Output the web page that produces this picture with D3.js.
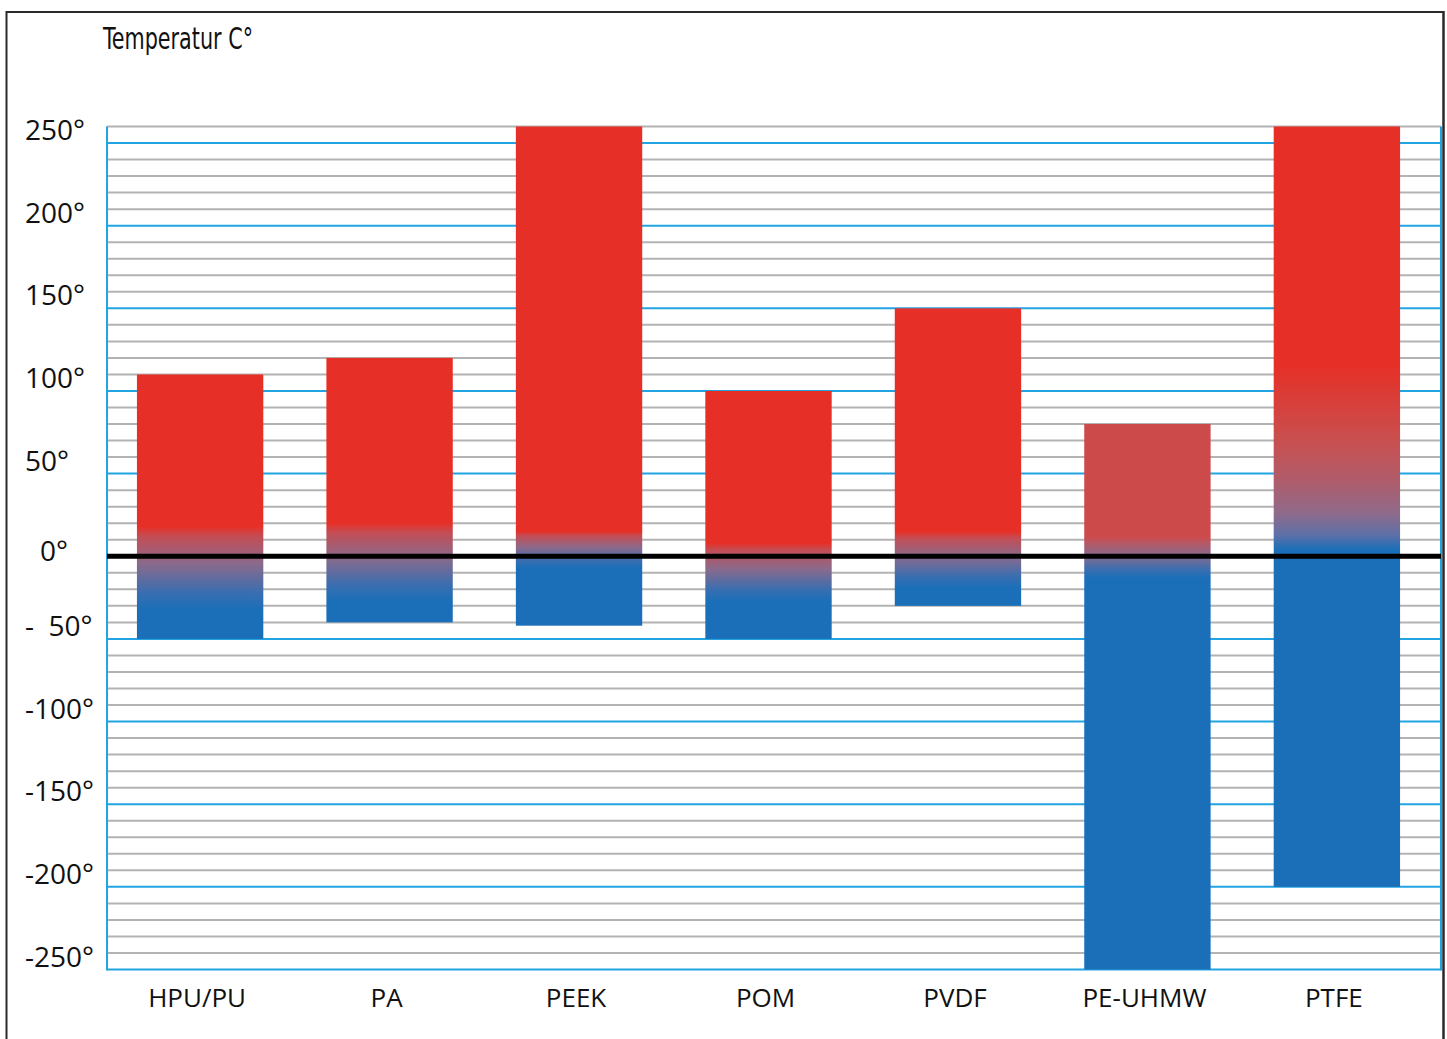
<!DOCTYPE html>
<html>
<head>
<meta charset="utf-8">
<script src="https://cdn.jsdelivr.net/npm/d3@7"></script>
<style>
  html, body { margin: 0; padding: 0; background: #fff; }
  svg { display: block; }
  .tick-label { white-space: pre; }
</style>
</head>
<body>
<svg id="chart" width="1447" height="1039"></svg>
<script>
// Service temperature range per plastic, in °C
const materials = ["HPU/PU", "PA", "PEEK", "POM", "PVDF", "PE-UHMW", "PTFE"];
const maxTemp   = [110, 120, 260, 100, 150, 80, 260];
const minTemp   = [-50, -40, -42, -50, -30, -250, -200];
// where the warm colour starts fading, and where it has turned fully cool (°C)
const fadeStart = [18, 20, 15, 8, 15, 12, 115];
const fadeEnd   = [-32, -27, -7, -27, -19, -13, 4];

const tickValues = [250, 200, 150, 100, 50, 0, -50, -100, -150, -200, -250];
const tickLabels = ["250°", "200°", "150°", "100°", "50°", "0°", "-  50°", "-100°", "-150°", "-200°", "-250°"];
const axisTitle = "Temperatur C°";

const svg = d3.select("#chart");
const plotLeft = 107, plotRight = 1441, plotTop = 126.5, plotBottom = 969.5;

const y = d3.scaleLinear().domain([-250, 260]).range([plotBottom, plotTop]);
const x = d3.scaleBand().domain(materials).range([plotLeft, 1430])
  .paddingInner(0.333).paddingOuter(0.158);

const RED = "#e63027", BLUE = "#1b6fb8", MUTED = "#cd4a4a";
const warmFor = d => d === "PE-UHMW" ? MUTED : RED;

// short fades turn quickly, the long PTFE fade drifts slowly through purple
const quickFade = warm => [
  [0, warm],
  [0.12, d3.interpolateRgb(warm, "#b55a68")(0.7)],
  [0.45, "#8a6a8c"],
  [0.8, "#3a6eb0"],
  [1, BLUE]
];
const slowFade = warm => [
  [0, warm],
  [0.4, "#c94f4f"],
  [0.62, "#b05c6a"],
  [0.8, "#906a8a"],
  [0.92, "#5e70a8"],
  [1, BLUE]
];

// outer frame
const frame = svg.append("g").attr("stroke", "#2a2a2a").attr("fill", "none");
frame.append("line").attr("x1", 6).attr("x2", 1443.5).attr("y1", 12).attr("y2", 12).attr("stroke-width", 2);
frame.append("line").attr("x1", 6.5).attr("x2", 6.5).attr("y1", 11).attr("y2", 1039).attr("stroke-width", 2);
frame.append("line").attr("x1", 1443.5).attr("x2", 1443.5).attr("y1", 11).attr("y2", 1039).attr("stroke-width", 2.5);

// grid: gray line every 10°, blue on the 50° steps
const minor = d3.range(-240, 261, 10).filter(v => v % 50 !== 0);
svg.append("g").selectAll("line").data(minor).join("line")
  .attr("x1", plotLeft).attr("x2", plotRight)
  .attr("y1", d => y(d)).attr("y2", d => y(d))
  .attr("stroke", "#b3b3b3").attr("stroke-width", 2);

svg.append("g").selectAll("line").data(tickValues).join("line")
  .attr("x1", plotLeft).attr("x2", plotRight)
  .attr("y1", d => y(d)).attr("y2", d => y(d))
  .attr("stroke", "#22a4e2").attr("stroke-width", 2);

// vertical plot edges
svg.append("line").attr("x1", plotLeft).attr("x2", plotLeft).attr("y1", plotTop).attr("y2", plotBottom + 1)
  .attr("stroke", "#22a4e2").attr("stroke-width", 2);
svg.append("line").attr("x1", plotRight).attr("x2", plotRight).attr("y1", plotTop).attr("y2", plotBottom + 1)
  .attr("stroke", "#22a4e2").attr("stroke-width", 2);

// per-bar warm-to-cool gradients
const defs = svg.append("defs");
materials.forEach((m, i) => {
  const g = defs.append("linearGradient")
    .attr("id", "grad" + i)
    .attr("gradientUnits", "userSpaceOnUse")
    .attr("x1", 0).attr("x2", 0)
    .attr("y1", y(fadeStart[i])).attr("y2", y(fadeEnd[i]));
  const profile = (fadeStart[i] - fadeEnd[i]) > 80 ? slowFade : quickFade;
  profile(warmFor(m)).forEach(([o, c]) =>
    g.append("stop").attr("offset", o).attr("stop-color", c));
});

// bars
svg.append("g").selectAll("rect").data(materials).join("rect")
  .attr("x", d => x(d))
  .attr("width", x.bandwidth())
  .attr("y", (d, i) => y(maxTemp[i]))
  .attr("height", (d, i) => y(minTemp[i]) - y(maxTemp[i]))
  .attr("fill", (d, i) => `url(#grad${i})`);

// zero line
svg.append("line").attr("x1", plotLeft).attr("x2", plotRight).attr("y1", y(0)).attr("y2", y(0))
  .attr("stroke", "#000").attr("stroke-width", 5);

// y tick labels
svg.append("g").selectAll("text").data(tickValues).join("text")
  .attr("class", "tick-label")
  .attr("x", d => d === 0 ? 40 : 25)
  .attr("y", d => d === 0 ? y(d) + 5 : y(d) - 3)
  .attr("font-family", "'Open Sans', 'Noto Sans', sans-serif")
  .attr("font-size", 28)
  .attr("fill", "#111")
  .text((d, i) => tickLabels[i]);

// category labels
svg.append("g").selectAll("text").data(materials).join("text")
  .attr("x", d => x(d) + x.bandwidth() / 2 - 3)
  .attr("y", 1007)
  .attr("text-anchor", "middle")
  .attr("font-family", "'Open Sans', 'Noto Sans', sans-serif")
  .attr("font-size", 26)
  .attr("fill", "#111")
  .text(d => d);

// axis title
svg.append("text")
  .attr("x", 103).attr("y", 49)
  .attr("font-family", "'Liberation Sans Narrow', 'DejaVu Sans Condensed', sans-serif")
  .attr("font-size", 30)
  .attr("textLength", 150)
  .attr("lengthAdjust", "spacingAndGlyphs")
  .attr("fill", "#111")
  .text(axisTitle);
</script>
</body>
</html>
